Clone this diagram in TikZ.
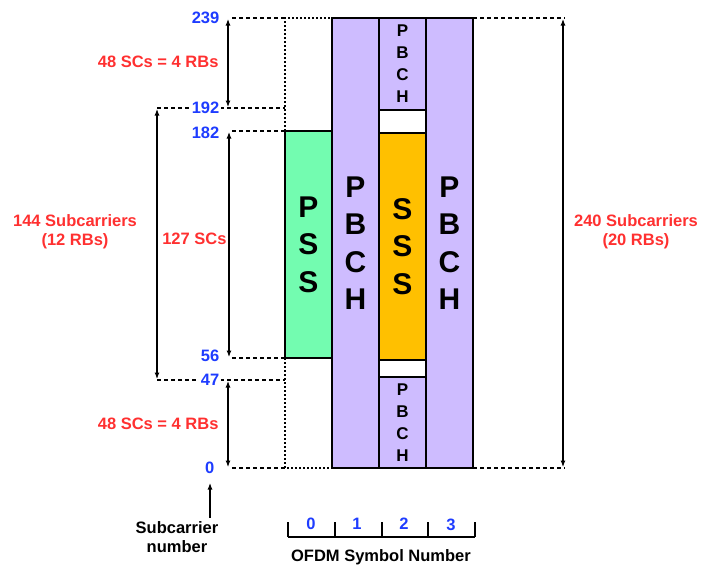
\documentclass[tikz,border=0pt]{standalone}
\usepackage{fontspec}
\setmainfont{Liberation Sans}
\usetikzlibrary{arrows.meta}
\definecolor{pb}{RGB}{206,188,255}
\definecolor{ps}{RGB}{115,252,176}
\definecolor{ss}{RGB}{255,192,0}
\definecolor{rd}{RGB}{255,48,48}
\definecolor{bl}{RGB}{30,60,255}
\begin{document}
\begin{tikzpicture}[x=1pt,y=-1pt,
 blk/.style={draw, line width=2pt, anchor=north west, inner sep=0pt, outer sep=0pt, align=center},
 num/.style={text=bl, fill=white, font=\bfseries\fontsize{16.5}{18}\selectfont, anchor=east, inner sep=1.5pt},
 lab/.style={text=rd, font=\bfseries\fontsize{16.5}{19}\selectfont, align=center},
 blab/.style={font=\bfseries\fontsize{16.5}{19}\selectfont, align=center},
 dline/.style={line width=1.6pt, dash pattern=on 4pt off 3pt},
 dotl/.style={line width=1.6pt, dash pattern=on 1.6pt off 2.4pt},
 dimarrow/.style={line width=1.1pt, {Latex[length=6.5pt,width=5pt]}-{Latex[length=6.5pt,width=5pt]}},
 bigtxt/.style={font=\bfseries\fontsize{30}{37.5}\selectfont},
 smalltxt/.style={font=\bfseries\fontsize{17}{22}\selectfont}]
\useasboundingbox (0,0) rectangle (702,566);

% coordinates
\coordinate (d239) at (232,18);
\coordinate (d192) at (157,108);
\coordinate (d182) at (232,131);
\coordinate (d56) at (232,358);
\coordinate (d47) at (157,380);
\coordinate (d0) at (232,468);
\coordinate (r239) at (565,18);
\coordinate (r0) at (565,468);
\coordinate (p192) at (285,108);
\coordinate (p47) at (285,380);

% dashed guide lines
\draw[dline] (d239) -- (285,18);
\draw[dline] (d192) -- (p192);
\draw[dline] (d182) -- (285,131);
\draw[dline] (d56) -- (285,358);
\draw[dline] (d47) -- (p47);
\draw[dline] (d0) -- (285,468);
\draw[dline] (473,18) -- (r239);
\draw[dline] (473,468) -- (r0);

% dotted empty PSS regions
\draw[dotl] (285,131) -- (285,18) -- (332,18);
\draw[dotl] (285,358) -- (285,468) -- (332,468);

% blocks
\node[blk, fill=ps, minimum width=47pt, minimum height=227pt, bigtxt] (pss) at (285,131) {P\\S\\S};
\node[blk, fill=pb, minimum width=47pt, minimum height=450pt, bigtxt] (c1) at (332,18) {P\\B\\C\\H};
\node[blk, fill=pb, minimum width=47pt, minimum height=92pt, smalltxt] (c2t) at (379,18) {P\\B\\C\\H};
\node[blk, fill=white, minimum width=47pt, minimum height=23pt] (w1) at (379,110) {};
\node[blk, fill=ss, minimum width=47pt, minimum height=227pt, bigtxt] (sss) at (379,133) {S\\S\\S};
\node[blk, fill=white, minimum width=47pt, minimum height=17pt] (w2) at (379,360) {};
\node[blk, fill=pb, minimum width=47pt, minimum height=91pt, smalltxt] (c2b) at (379,377) {P\\B\\C\\H};
\node[blk, fill=pb, minimum width=47pt, minimum height=450pt, bigtxt] (c3) at (426,18) {P\\B\\C\\H};

% numbers
\node[num] (n239) at (221,18) {239};
\node[num] (n192) at (221,108) {192};
\node[num] (n182) at (221,133) {182};
\node[num] (n56) at (221,356) {56};
\node[num] (n47) at (221,380) {47};
\node[num] (n0) at (216,468) {0};

% dimension arrows
\coordinate (a1t) at (228,19);
\coordinate (a1b) at (228,107);
\coordinate (a2t) at (229,132);
\coordinate (a2b) at (229,357);
\coordinate (a3t) at (157,109);
\coordinate (a3b) at (157,379);
\coordinate (a4t) at (228,381);
\coordinate (a4b) at (228,467);
\coordinate (a5t) at (563,19);
\coordinate (a5b) at (563,467);
\draw[dimarrow] (a1t) -- (a1b);
\draw[dimarrow] (a2t) -- (a2b);
\draw[dimarrow] (a3t) -- (a3b);
\draw[dimarrow] (a4t) -- (a4b);
\draw[dimarrow] (a5t) -- (a5b);

% red labels
\node[lab, anchor=east] (l1) at (222,62) {48 SCs = 4 RBs};
\node[lab, anchor=east] (l2) at (230,239) {127 SCs};
\node[lab] (l3) at (75,232) {144 Subcarriers\\(12 RBs)};
\node[lab, anchor=east] (l4) at (222,424) {48 SCs = 4 RBs};
\node[lab] (l5) at (636,232) {240 Subcarriers\\(20 RBs)};

% subcarrier number
\node[blab] (scn) at (177,537) {Subcarrier\\number};
\coordinate (scu) at (210,483);
\draw[line width=1.1pt, -{Latex[length=6.5pt,width=5pt]}] (scn.north -| scu) -- (scu);

% OFDM symbol axis
\coordinate (ax0) at (288,537);
\coordinate (ax1) at (335,537);
\coordinate (ax2) at (382,537);
\coordinate (ax3) at (428,537);
\coordinate (ax4) at (475,537);
\draw[line width=1.3pt] (ax0) -- (ax4);
\foreach \c in {ax0,ax1,ax2,ax3,ax4} \draw[line width=1.3pt] (\c) -- ++(0,-15);
\node[num, anchor=center, fill=none] (s0) at (311,524) {0};
\node[num, anchor=center, fill=none] (s1) at (357,524) {1};
\node[num, anchor=center, fill=none] (s2) at (404,524) {2};
\node[num, anchor=center, fill=none] (s3) at (451,525) {3};
\node[blab] (ofdm) at (381,557) {OFDM Symbol Number};
\end{tikzpicture}
\end{document}
